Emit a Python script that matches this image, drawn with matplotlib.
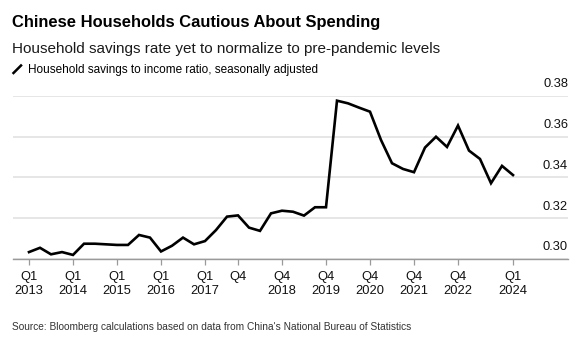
import matplotlib
matplotlib.use("Agg")
import matplotlib.pyplot as plt
from matplotlib.lines import Line2D

# ---- data ----
quarters = list(range(45))  # Q1 2013 ... Q1 2024
savings_ratio = [
    0.3034, 0.3055, 0.3023, 0.3034, 0.3020, 0.3075, 0.3075, 0.3072, 0.3069, 0.3069,
    0.3118, 0.3105, 0.3037, 0.3065, 0.3105, 0.3072, 0.3088, 0.3142, 0.3208, 0.3214,
    0.3154, 0.3138, 0.3224, 0.3237, 0.3232, 0.3213, 0.3254, 0.3254, 0.3777, 0.3764,
    0.3743, 0.3723, 0.3584, 0.3470, 0.3442, 0.3426, 0.3547, 0.3600, 0.3550, 0.3655,
    0.3532, 0.3491, 0.3372, 0.3457, 0.3412,
]
xtick_pos = [0, 4, 8, 12, 16, 19, 23, 27, 31, 35, 39, 44]
xtick_labels = ["Q1\n2013", "Q1\n2014", "Q1\n2015", "Q1\n2016", "Q1\n2017", "Q4",
                "Q4\n2018", "Q4\n2019", "Q4\n2020", "Q4\n2021", "Q4\n2022", "Q1\n2024"]
ytick_vals = [0.30, 0.32, 0.34, 0.36, 0.38]

title = "Chinese Households Cautious About Spending"
subtitle = "Household savings rate yet to normalize to pre-pandemic levels"
legend_label = "Household savings to income ratio, seasonally adjusted"
source = "Source: Bloomberg calculations based on data from China's National Bureau of Statistics"

W, H = 579, 339
plt.rcParams['font.family'] = ['Liberation Sans', 'DejaVu Sans']
fig = plt.figure(figsize=(W / 100, H / 100), dpi=100)
fig.patch.set_facecolor("white")

def fx(px):
    return px / W

def fy(py):
    return 1 - py / H

ax = fig.add_axes([fx(13), fy(259), fx(568) - fx(13), fy(96) - fy(259)])
ax.plot(quarters, savings_ratio, color="black", lw=1.9, solid_joinstyle="miter", zorder=3)

ax.set_xlim((13 - 29) / 11, (568 - 29) / 11)
ax.set_ylim(0.30, 0.38)

for s in ["top", "right", "left"]:
    ax.spines[s].set_visible(False)
ax.spines["bottom"].set_color("#9a9a9a")
ax.spines["bottom"].set_linewidth(1.0)

ax.set_yticks(ytick_vals)
ax.yaxis.set_tick_params(length=0, labelleft=False)
ax.grid(axis="y", color="#e4e4e4", lw=1.3, zorder=0)
for v in ytick_vals:
    ax.annotate(f"{v:.2f}", xy=(1, v), xycoords=("axes fraction", "data"),
                xytext=(0, 6.2), textcoords="offset points",
                ha="right", va="baseline", fontsize=9.3, color="#111111",
                annotation_clip=False)

ax.set_xticks(xtick_pos)
ax.set_xticklabels(xtick_labels, fontsize=9.3, color="#111111", linespacing=1.25, va="top")
ax.tick_params(axis="x", length=4.5, width=0.9, color="#9a9a9a", pad=4)

fig.text(fx(12), fy(26.5), title, fontsize=11.9, fontweight="bold", color="#000000", va="baseline")
fig.text(fx(12), fy(52.5), subtitle, fontsize=11.0, color="#1a1a1a", va="baseline")
fig.add_artist(Line2D([fx(13.5), fx(21)], [fy(73), fy(65.5)], color="black", lw=1.8,
                      transform=fig.transFigure))
fig.text(fx(28), fy(72.5), legend_label, fontsize=8.5, color="#000000", va="baseline")
fig.text(fx(12), fy(330.5), source, fontsize=7.3, color="#333333", va="baseline")

fig.savefig("out.png", dpi=100, facecolor="white")
